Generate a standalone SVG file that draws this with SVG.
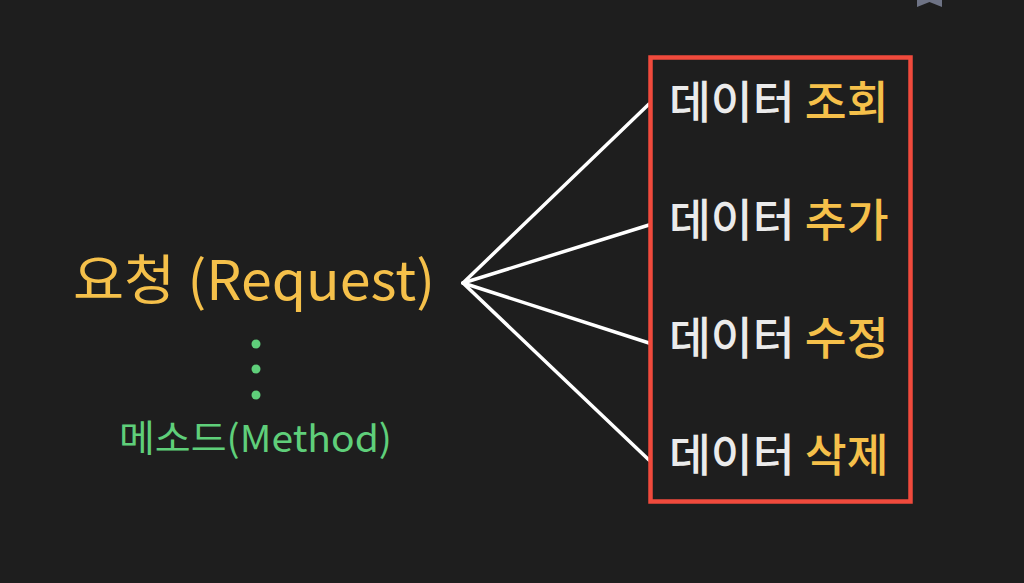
<svg xmlns="http://www.w3.org/2000/svg" width="1024" height="583" viewBox="0 0 1024 583">
<style>
text{font-family:"Noto Sans CJK KR","Noto Sans",sans-serif;font-weight:400;}
.w{fill:#ebebeb;}
.y{fill:#f5c04a;}
.item{font-size:45.5px;font-weight:500;}
.ln{stroke:#ffffff;stroke-width:3.5;fill:none;stroke-linecap:round;}
.dot{fill:#5fcf7a;}
</style>
<rect x="0" y="0" width="1024" height="583" fill="#1e1e1e"/>
<polygon points="917,0 942,0 942,7 929.5,2 917,7" fill="#6e7385"/>
<g id="connectors">
<line class="ln" x1="463" y1="283" x2="649" y2="104"/>
<line class="ln" x1="463" y1="283" x2="649" y2="225"/>
<line class="ln" x1="463" y1="283" x2="649" y2="343"/>
<line class="ln" x1="463" y1="283" x2="649" y2="460"/>
</g>
<g id="request">
<text x="73" y="300" font-size="54" class="y" textLength="362" lengthAdjust="spacingAndGlyphs">요청 (Request)</text>
</g>
<g id="method">
<circle class="dot" cx="256" cy="344" r="4.5"/>
<circle class="dot" cx="256" cy="369" r="4.5"/>
<circle class="dot" cx="256" cy="395" r="4.5"/>
<text x="119" y="452" font-size="37" fill="#5fcf7a" textLength="273" lengthAdjust="spacingAndGlyphs">메소드(Method)</text>
</g>
<g id="operations">
<rect x="650.5" y="57.5" width="260" height="444" fill="none" stroke="#f04a3c" stroke-width="4.5"/>
<text class="item w" x="669" y="119">데이터 <tspan class="y">조회</tspan></text>
<text class="item w" x="669" y="237">데이터 <tspan class="y">추가</tspan></text>
<text class="item w" x="669" y="355">데이터 <tspan class="y">수정</tspan></text>
<text class="item w" x="669" y="472">데이터 <tspan class="y">삭제</tspan></text>
</g>
</svg>
